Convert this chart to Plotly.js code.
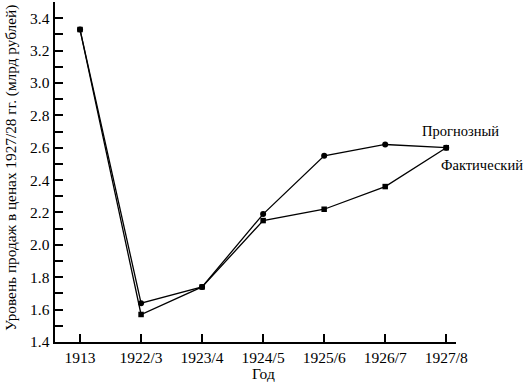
<!DOCTYPE html>
<html>
<head>
<meta charset="utf-8">
<script src="https://cdn.plot.ly/plotly-3.0.1.min.js"></script>
<style>html,body{margin:0;padding:0;background:#fff;}#chart{width:526px;height:382px;}</style>
</head>
<body>
<div id="chart"></div>
<script>
const years = ['1913', '1922/3', '1923/4', '1924/5', '1925/6', '1926/7', '1927/8'];
const forecast = [3.33, 1.64, 1.74, 2.19, 2.55, 2.62, 2.60];
const actual = [3.33, 1.57, 1.74, 2.15, 2.22, 2.36, 2.60];
const seriesNames = ['Прогнозный', 'Фактический'];
const xTitle = 'Год';
const yTitle = 'Уровень продаж в ценах 1927/28 гг. (млрд рублей)';

const font = {family: 'Times New Roman, Liberation Serif, serif', color: '#000'};
const f = (s) => Object.assign({size: s}, font);

const traces = [
  {x: years, y: forecast, name: seriesNames[0], type: 'scatter', mode: 'lines+markers',
   line: {color: '#000', width: 1.3}, marker: {symbol: 'circle', size: 6, color: '#000'}},
  {x: years, y: actual, name: seriesNames[1], type: 'scatter', mode: 'lines+markers',
   line: {color: '#000', width: 1.3}, marker: {symbol: 'square', size: 5.5, color: '#000'}}
];

const layout = {
  width: 526, height: 382,
  margin: {l: 55, r: 70, t: 2, b: 40},
  paper_bgcolor: '#fff', plot_bgcolor: '#fff',
  showlegend: false,
  font: f(15.5),
  xaxis: {
    type: 'category', range: [-0.41, 6.16],
    showline: true, linecolor: '#000', linewidth: 2,
    ticks: 'inside', ticklen: 8, tickwidth: 1.5, tickcolor: '#000',
    showgrid: false, zeroline: false,
    tickfont: f(15.5)
  },
  yaxis: {
    range: [1.4, 3.5], dtick: 0.2, tick0: 1.4, tickformat: '.1f',
    showline: true, linecolor: '#000', linewidth: 2.5,
    ticks: 'inside', ticklen: 8, tickwidth: 2, tickcolor: '#000',
    minor: {dtick: 0.1, tick0: 1.4, ticks: 'inside', ticklen: 8, tickwidth: 2, tickcolor: '#000', showgrid: false},
    showgrid: false, zeroline: false,
    tickfont: f(15.5)
  },
  annotations: [
    {x: years[3], y: -0.094, xref: 'x', yref: 'paper', text: xTitle, showarrow: false,
     xanchor: 'center', yanchor: 'middle', font: f(15.5)},
    {x: -0.11, y: 0.512, xref: 'paper', yref: 'paper', text: yTitle, textangle: -90, showarrow: false,
     xanchor: 'center', yanchor: 'middle', font: f(15.3)},
    {x: 1.01, y: 0.62, xref: 'paper', yref: 'paper', text: seriesNames[0], showarrow: false,
     xanchor: 'center', yanchor: 'middle', font: f(14.5)},
    {x: 1.065, y: 0.52, xref: 'paper', yref: 'paper', text: seriesNames[1], showarrow: false,
     xanchor: 'center', yanchor: 'middle', font: f(14.5)}
  ]
};

Plotly.newPlot('chart', traces, layout, {displayModeBar: false, staticPlot: true});
</script>
</body>
</html>
